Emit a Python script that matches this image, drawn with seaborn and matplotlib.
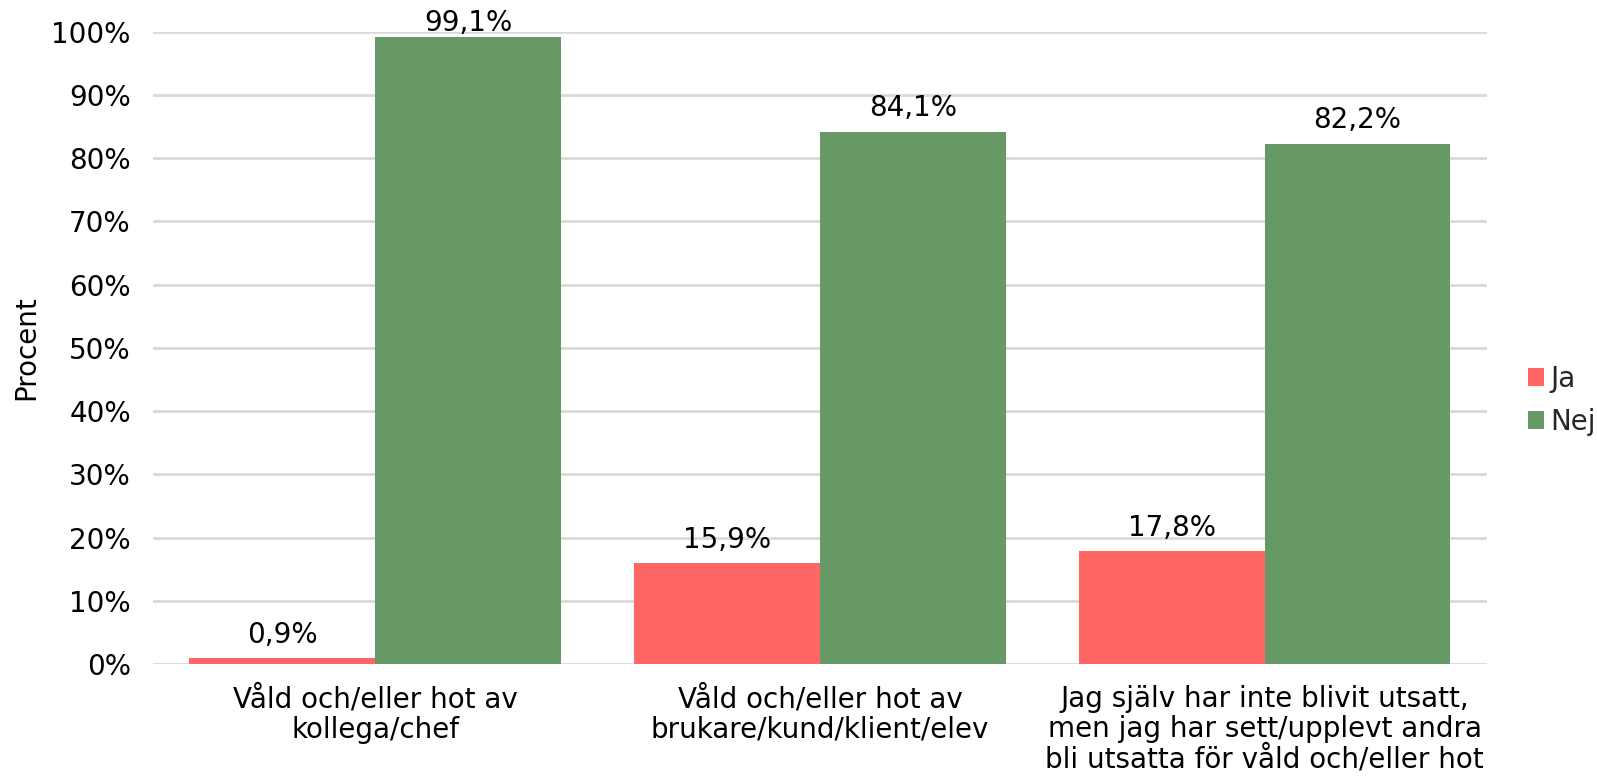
import matplotlib
matplotlib.use("Agg")
import matplotlib.pyplot as plt
import seaborn as sns
import pandas as pd

categories = [
    "Våld och/eller hot av\nkollega/chef",
    "Våld och/eller hot av\nbrukare/kund/klient/elev",
    "Jag själv har inte blivit utsatt,\nmen jag har sett/upplevt andra\nbli utsatta för våld och/eller hot",
]
answers = ["Ja", "Nej"]
ja_values = [0.9, 15.9, 17.8]
nej_values = [99.1, 84.1, 82.2]
y_ticks = list(range(0, 101, 10))

df = pd.DataFrame({
    "Kategori": categories * 2,
    "Svar": ["Ja"] * 3 + ["Nej"] * 3,
    "Procent": ja_values + nej_values,
})

sns.set_theme(style="white")
plt.rcParams["font.family"] = ["DejaVu Sans"]

FS = 20

fig = plt.figure(figsize=(15.97, 7.76), dpi=100)
ax = fig.add_axes([0.0958, 0.1443, 0.8352, 0.815])

palette = {"Ja": "#FF6666", "Nej": "#669966"}
sns.barplot(data=df, x="Kategori", y="Procent", hue="Svar", hue_order=answers,
            order=categories, palette=palette, width=0.836, saturation=1,
            ax=ax, zorder=3, linewidth=0)

ax.set_ylim(0, 100)
ax.set_xlim(-0.5, 2.5)
ax.set_yticks(y_ticks)
ax.set_yticklabels([f"{t}%" for t in y_ticks])
ax.yaxis.grid(True, color="#D9D9D9", linewidth=2, zorder=0)
ax.set_axisbelow(True)
for s in ax.spines.values():
    s.set_visible(False)
ax.tick_params(axis="both", length=0, labelsize=FS, colors="#000000")
ax.tick_params(axis="y", pad=16)
ax.tick_params(axis="x", pad=15)
for lbl in ax.get_xticklabels():
    lbl.set_linespacing(1.1)
ax.set_xlabel("")
ax.set_ylabel("Procent", fontsize=FS, color="#000000", labelpad=8)

# value labels; a label that would run past the top of the plot area sits lower
for container in ax.containers:
    for bar, v in zip(container, container.datavalues):
        text = f"{v:.1f}%".replace(".", ",")
        pad = 0 if v > 95 else 7
        ax.annotate(text, (bar.get_x() + bar.get_width() / 2, v),
                    xytext=(0, pad), textcoords="offset points",
                    ha="center", va="bottom", fontsize=FS, color="#000000")

ax.legend(loc="center left", bbox_to_anchor=(0.941, 0.484),
          bbox_transform=fig.transFigure, frameon=False, fontsize=FS,
          handlelength=0.6, handleheight=0.6, handletextpad=0.2,
          labelspacing=0.55, title=None)

fig.savefig("out.png", dpi=100, facecolor="white")
